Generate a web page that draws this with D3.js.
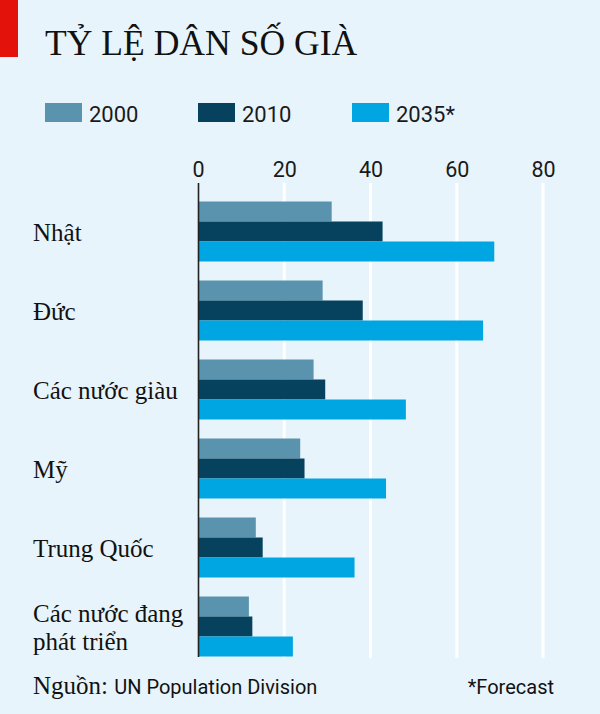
<!DOCTYPE html>
<html>
<head>
<meta charset="utf-8">
<script src="https://cdn.jsdelivr.net/npm/d3@7"></script>
<style>
  body { margin: 0; background: #e8f4fb; }
  svg { display: block; }
</style>
</head>
<body>
<svg id="chart" width="600" height="714"></svg>
<script>
// data (share of population, %)
const categories = ["Nhật", "Đức", "Các nước giàu", "Mỹ", "Trung Quốc", "Các nước đang phát triển"]
const labelLines = [["Nhật"], ["Đức"], ["Các nước giàu"], ["Mỹ"], ["Trung Quốc"], ["Các nước đang", "phát triển"]]
const series = ["2000", "2010", "2035*"]
const values2000 = [31.0, 28.9, 26.8, 23.7, 13.4, 11.8]
const values2010 = [42.8, 38.2, 29.5, 24.7, 15.0, 12.6]
const values2035 = [68.7, 66.1, 48.2, 43.6, 36.3, 22.0]
const ticks = [0, 20, 40, 60, 80]

const colors = ["#5a93ae", "#06425e", "#00a6e2"]
const serif = "'Liberation Serif', 'Times New Roman', serif"
const sans = "Roboto, 'Open Sans', sans-serif"

const svg = d3.select("#chart")
const bg = "#e8f4fb"
svg.append("rect").attr("width", 600).attr("height", 714).attr("fill", bg)

// red tag + title
svg.append("rect").attr("x", 0).attr("y", 0).attr("width", 18).attr("height", 57).attr("fill", "#e3120b")
svg.append("text")
    .attr("x", 45).attr("y", 55)
    .attr("font-family", serif).attr("font-size", 35.6)
    .attr("fill", "#111")
    .text("TỶ LỆ DÂN SỐ GIÀ")

// legend
const legendX = [45, 198, 352]
const legend = svg.append("g")
series.forEach((s, i) => {
    legend.append("rect")
        .attr("x", legendX[i]).attr("y", 103)
        .attr("width", 37).attr("height", 19)
        .attr("fill", colors[i])
    legend.append("text")
        .attr("x", legendX[i] + 44).attr("y", 122)
        .attr("font-family", sans).attr("font-size", 22)
        .attr("fill", "#1a1a1a")
        .text(s)
})

// scales
const x = d3.scaleLinear().domain([0, 80]).range([198, 543])
const y = d3.scaleBand().domain(categories).range([201.5, 201.5 + 6 * 79 - 19]).paddingInner(19 / 79).paddingOuter(0)
const ySub = d3.scaleBand().domain(series).range([0, y.bandwidth()])

const gridTop = 183
const gridBottom = 658

// gridlines
svg.append("g")
    .selectAll("line")
    .data(ticks.slice(1))
    .join("line")
    .attr("x1", d => x(d)).attr("x2", d => x(d))
    .attr("y1", gridTop).attr("y2", gridBottom)
    .attr("stroke", "#fff").attr("stroke-width", 3)

// tick labels via axis
const axis = svg.append("g")
    .attr("transform", `translate(0,${gridTop - 6})`)
    .call(d3.axisTop(x).tickValues(ticks).tickSize(0).tickPadding(0))
axis.select(".domain").remove()
axis.selectAll("text")
    .attr("font-family", sans).attr("font-size", 21.5)
    .attr("fill", "#1a1a1a")

// bars
const table = categories.map((c, i) => ({
    cat: c,
    vals: [values2000[i], values2010[i], values2035[i]]
}))

const groups = svg.append("g")
    .selectAll("g")
    .data(table)
    .join("g")
    .attr("transform", d => `translate(0,${y(d.cat)})`)

groups.selectAll("rect")
    .data(d => d.vals.map((v, j) => ({ s: series[j], v: v, j: j })))
    .join("rect")
    .attr("x", x(0))
    .attr("y", d => ySub(d.s))
    .attr("width", d => x(d.v) - x(0))
    .attr("height", ySub.bandwidth())
    .attr("fill", d => colors[d.j])

// zero line
svg.append("line")
    .attr("x1", x(0) + 0.5).attr("x2", x(0) + 0.5)
    .attr("y1", gridTop).attr("y2", gridBottom - 1)
    .attr("stroke", "#222").attr("stroke-width", 1.6)

// category labels
categories.forEach((c, i) => {
    const lines = labelLines[i]
    const cy = y(c) + y.bandwidth() / 2
    const t = svg.append("text")
        .attr("font-family", serif).attr("font-size", 25)
        .attr("fill", "#111")
    const startY = lines.length === 1 ? cy + 9 : cy - 5
    lines.forEach((ln, k) => {
        t.append("tspan").attr("x", 33).attr("y", startY + k * 28.5).text(ln)
    })
})

// footer
const foot = svg.append("text").attr("x", 33).attr("y", 694).attr("fill", "#111")
foot.append("tspan").attr("font-family", serif).attr("font-size", 25).text("Nguồn: ")
foot.append("tspan").attr("font-family", sans).attr("font-size", 20).text("UN Population Division")

svg.append("text")
    .attr("x", 554).attr("y", 694)
    .attr("text-anchor", "end")
    .attr("font-family", sans).attr("font-size", 20)
    .attr("fill", "#111")
    .text("*Forecast")
</script>
</body>
</html>
